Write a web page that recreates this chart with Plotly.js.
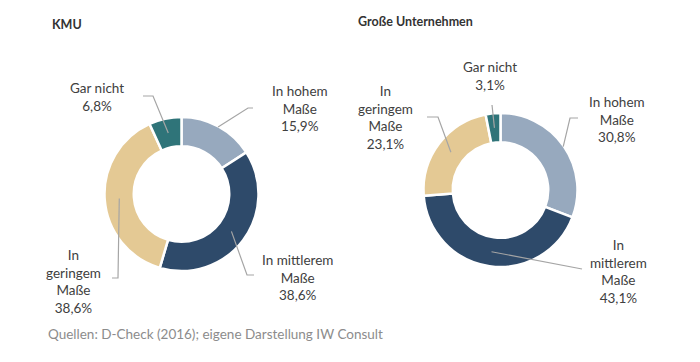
<!DOCTYPE html>
<html>
<head>
<meta charset="utf-8">
<script src="https://cdn.plot.ly/plotly-3.0.1.min.js"></script>
<style>html,body{margin:0;padding:0;background:#fff;}#chart{width:700px;height:362px;}</style>
</head>
<body>
<div id="chart"></div>
<script>
// ---- data ----
const categories = ["In hohem Maße", "In mittlerem Maße", "In geringem Maße", "Gar nicht"];
const kmuValues = [15.9, 38.6, 38.6, 6.8];
const grossValues = [30.8, 43.1, 23.1, 3.1];
const kmuLabels = ["In hohem<br>Maße<br>15,9%", "In mittlerem<br>Maße<br>38,6%", "In<br>geringem<br>Maße<br>38,6%", "Gar nicht<br>6,8%"];
const grossLabels = ["In hohem<br>Maße<br>30,8%", "In<br>mittlerem<br>Maße<br>43,1%", "In<br>geringem<br>Maße<br>23,1%", "Gar nicht<br>3,1%"];
const chartTitles = ["KMU", "Große Unternehmen"];
const sourceText = "Quellen: D-Check (2016); eigene Darstellung IW Consult";

// ---- styling ----
const colors = ["#97A9BE", "#2E4A6A", "#E4C994", "#2F7479"];
const W = 700, H = 362;
const FONT = "Lato, 'Open Sans', sans-serif";
const px = x => x / W;
const py = y => 1 - y / H;

// donut geometry (pixels)
const pies = [
  {cx: 181.5, cy: 194, r: 77, values: kmuValues, labels: kmuLabels,
   labelPos: [[300, 108], [297, 277], [73, 281], [97, 97]],
   elbows: [[[248,108],[253,108]], [[247,275],[254,275]], [[118,278],[112,278]], [[153,96],[143,96]]],
   anchorR: [0.99, 0.81, 0.81, 0.81]},
  {cx: 500.5, cy: 190, r: 77, values: grossValues, labels: grossLabels,
   labelPos: [[617, 119], [618, 271], [385, 118], [490, 76]],
   elbows: [[[570,118],[578,118]], [[582,269]], [[438,117],[427,117]], [[492,105]]],
   anchorR: [0.99, 0.81, 0.81, 0.81]}
];

const data = pies.map(p => ({
  type: "pie",
  values: p.values,
  labels: categories,
  sort: false,
  direction: "clockwise",
  rotation: 0,
  hole: 0.62,
  textinfo: "none",
  hoverinfo: "label+percent",
  marker: {colors: colors, line: {color: "#ffffff", width: 2.5}},
  domain: {x: [px(p.cx - p.r), px(p.cx + p.r)], y: [py(p.cy + p.r), py(p.cy - p.r)]}
}));

const annotations = [];
const shapes = [];
pies.forEach(p => {
  const total = p.values.reduce((a, b) => a + b, 0);
  let cum = 0;
  p.values.forEach((v, i) => {
    const mid = (cum + v / 2) / total * 2 * Math.PI;
    cum += v;
    const ar = p.r * p.anchorR[i];
    const ax = p.cx + ar * Math.sin(mid);
    const ay = p.cy - ar * Math.cos(mid);
    const pts = [[ax, ay]].concat(p.elbows[i]);
    const path = pts.map((q, k) => (k ? "L" : "M") + px(q[0]).toFixed(5) + "," + py(q[1]).toFixed(5)).join(" ");
    shapes.push({type: "path", xref: "paper", yref: "paper", path: path,
                 line: {color: "#A5A5A5", width: 1.2}});
    annotations.push({xref: "paper", yref: "paper", x: px(p.labelPos[i][0]), y: py(p.labelPos[i][1]),
      text: p.labels[i], showarrow: false, xanchor: "center", yanchor: "middle", align: "center",
      font: {family: FONT, size: 13.5, color: "#404040"}});
  });
});

annotations.push({xref: "paper", yref: "paper", x: px(50), y: py(24), text: "<b>" + chartTitles[0] + "</b>",
  showarrow: false, xanchor: "left", yanchor: "middle", font: {family: FONT, size: 12.5, color: "#333333"}});
annotations.push({xref: "paper", yref: "paper", x: px(356), y: py(22), text: "<b>" + chartTitles[1] + "</b>",
  showarrow: false, xanchor: "left", yanchor: "middle", font: {family: FONT, size: 12.5, color: "#333333"}});
annotations.push({xref: "paper", yref: "paper", x: px(46), y: py(334), text: sourceText,
  showarrow: false, xanchor: "left", yanchor: "middle", font: {family: FONT, size: 13.5, color: "#8C8C8C"}});

const layout = {
  width: W, height: H,
  margin: {l: 0, r: 0, t: 0, b: 0},
  paper_bgcolor: "#ffffff",
  showlegend: false,
  annotations: annotations,
  shapes: shapes
};

Plotly.newPlot("chart", data, layout, {displayModeBar: false, staticPlot: true});
</script>
</body>
</html>
